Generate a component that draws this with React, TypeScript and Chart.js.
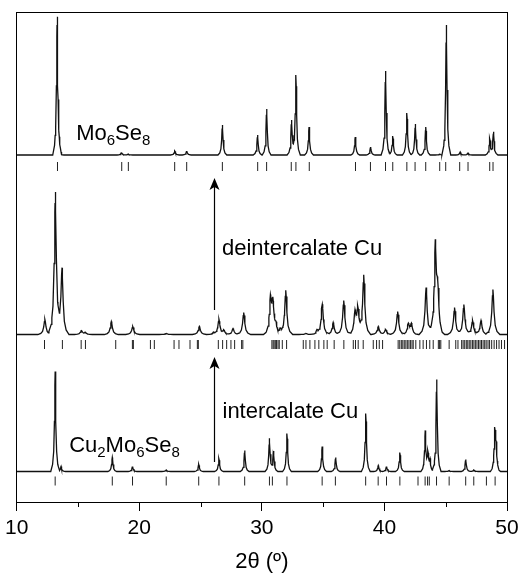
import { useEffect, useRef } from "react";
import { Chart, registerables } from "chart.js";

Chart.register(...registerables);

// ---- Data (2θ in degrees, intensities in plot units) ----
const topPeakPos = [13.3, 13.5, 18.55, 19.1, 22.9, 23.87, 26.78, 29.65, 30.39, 32.42, 32.78, 33.85, 37.62, 38.87, 40.09, 40.68, 41.83, 42.52, 43.37, 44.51, 45.05, 46.18, 46.82, 48.59, 48.9];
const topPeakInt = [138, 2, 2.5, 1, 4, 4, 30, 20, 46, 35, 80, 28, 18, 8, 84, 19, 42, 31, 28, 1, 130, 3, 2, 16, 23];

const midPeakPos = [12.3, 13.15, 13.7, 15.28, 15.6, 17.72, 19.47, 22.2, 24.9, 26.05, 26.5, 26.9, 27.65, 28.52, 30.7, 30.9, 31.15, 31.5, 31.95, 33.6, 34.5, 34.93, 35.82, 36.68, 37.6, 37.83, 38.31, 39.5, 40.1, 41.08, 41.95, 42.2, 43.4, 44.15, 44.35, 45.72, 46.48, 47.19, 47.88, 48.85];
const midPeakInt = [15, 142, 66, 4, 2, 13, 8, 1, 8, 2, 15, 4, 6, 22, 34, 30, 8, 5, 44, 1, 4, 30, 12, 34, 21, 24, 59, 8, 5, 23, 10, 10, 47, 88, 38, 27, 30, 14, 14, 45];

const botPeakPos = [13.14, 13.62, 17.8, 19.45, 22.2, 24.85, 26.5, 28.6, 30.62, 30.95, 32.05, 34.92, 36.02, 38.48, 39.5, 40.17, 41.26, 43.33, 43.55, 43.72, 44.26, 45.28, 46.63, 47.3, 49.0, 49.12];
const botPeakInt = [100, 5, 14, 5, 1.5, 7, 13, 21, 33, 20, 38, 25, 14, 58, 6, 5, 19, 40, 17, 11, 92, 1, 12, 1.5, 40, 22];

const topTicks = [13.33, 18.57, 19.11, 22.89, 23.87, 26.78, 29.66, 30.39, 32.4, 32.78, 33.87, 37.64, 38.86, 40.09, 40.68, 41.83, 42.5, 43.37, 44.51, 45.0, 46.14, 46.82, 48.59, 48.86];
const midTicks = [12.27, 13.73, 15.26, 15.61, 18.08, 19.44, 19.52, 20.91, 21.23, 22.84, 23.24, 24.14, 24.74, 24.82, 26.45, 26.8, 27.13, 27.48, 27.78, 28.35, 28.45, 30.82, 30.92, 31.0, 31.1, 31.2, 31.32, 31.42, 31.67, 32.02, 33.38, 33.6, 33.92, 34.33, 34.65, 35.06, 35.33, 35.9, 36.69, 37.46, 37.64, 37.86, 38.27, 39.09, 39.36, 39.58, 39.85, 41.12, 41.25, 41.38, 41.5, 41.62, 41.75, 41.87, 42.0, 42.12, 42.25, 42.35, 42.56, 42.89, 43.16, 43.43, 43.7, 43.98, 44.4, 44.5, 44.6, 45.28, 45.82, 46.0, 46.3, 46.42, 46.55, 46.68, 46.8, 46.92, 47.05, 47.18, 47.3, 47.42, 47.55, 47.68, 47.8, 47.92, 48.05, 48.18, 48.3, 48.45, 48.58, 48.75, 48.95, 49.15, 49.35, 49.55, 49.8];
const botTicks = [13.14, 17.8, 19.45, 22.2, 24.85, 26.5, 28.6, 30.62, 30.86, 32.05, 34.92, 36.0, 38.47, 39.49, 40.17, 41.26, 42.74, 43.32, 43.52, 43.66, 44.25, 45.28, 46.63, 47.29, 48.32, 49.03];

const xTickLabels = [10, 20, 30, 40, 50];
const xMinorTicks = [15, 25, 35, 45];

// vertical stacking offsets of the three patterns and their reflection-marker rows
const topOffset = 347;
const midOffset = 167.5;
const botOffset = 30.5;
const topTickRow = 335.5;
const midTickRow = 157.5;
const botTickRow = 21;

// text annotations: [2θ, y, runs] — runs: [text, isSubscript]
const labelTexts: [number, number, [string, boolean][]][] = [
  [14.85, 362, [["Mo", false], ["6", true], ["Se", false], ["8", true]]],
  [26.75, 247, [["deintercalate Cu", false]]],
  [26.79, 84, [["intercalate Cu", false]]],
  [14.28, 50, [["Cu", false], ["2", true], ["Mo", false], ["6", true], ["Se", false], ["8", true]]],
];
// arrows: [2θ, yFrom, yTo]
const arrows: [number, number, number][] = [
  [26.1, 192, 324],
  [26.1, 40, 145],
];

const FONT = "'Liberation Sans', Arial, Helvetica, sans-serif";

// peak profile template (distance in half-widths -> relative height)
const profile: [number, number][] = [[0, 1], [0.4, 0.86], [1, 0.5], [2, 0.2], [3.5, 0.07], [6, 0]];

function shape(d: number): number {
  for (let k = 0; k < profile.length - 1; k++) {
    const [u0, v0] = profile[k];
    const [u1, v1] = profile[k + 1];
    if (d <= u1) return v0 + ((d - u0) / (u1 - u0)) * (v1 - v0);
  }
  return 0;
}

function buildCurve(pos: number[], int: number[], gamma: number, offset: number) {
  const xs = new Set<number>([10, 50]);
  pos.forEach((p) =>
    profile.forEach(([u]) => {
      xs.add(+(p - u * gamma).toFixed(4));
      xs.add(+(p + u * gamma).toFixed(4));
    })
  );
  const sorted = [...xs].filter((x) => x >= 10 && x <= 50).sort((a, b) => a - b);
  return sorted.map((x) => {
    let y = 0;
    pos.forEach((p, i) => {
      y += int[i] * shape(Math.abs(x - p) / gamma);
    });
    return { x, y: offset + y };
  });
}

const tickData = (arr: number[], row: number) => arr.map((x) => ({ x, y: row }));

const annotPlugin = {
  id: "annot",
  afterDatasetsDraw(chart: any) {
    const { ctx, scales } = chart;
    const xs = scales.x;
    const ys = scales.y;
    ctx.save();
    ctx.fillStyle = "#000";
    ctx.strokeStyle = "#000";
    ctx.textBaseline = "alphabetic";
    ctx.textAlign = "left";
    labelTexts.forEach(([lx, ly, runs]) => {
      let px = xs.getPixelForValue(lx);
      const py = ys.getPixelForValue(ly);
      runs.forEach(([t, sub]) => {
        ctx.font = sub ? `15px ${FONT}` : `22px ${FONT}`;
        ctx.fillText(t, px, py + (sub ? 5 : 0));
        px += ctx.measureText(t).width;
      });
    });
    arrows.forEach(([ax, y0, y1]) => {
      const px = Math.round(xs.getPixelForValue(ax)) + 0.5;
      const pb = ys.getPixelForValue(y0);
      const pt = ys.getPixelForValue(y1);
      ctx.lineWidth = 1.2;
      ctx.beginPath();
      ctx.moveTo(px, pb);
      ctx.lineTo(px, pt + 8);
      ctx.stroke();
      ctx.beginPath();
      ctx.moveTo(px, pt);
      ctx.lineTo(px - 5, pt + 12);
      ctx.lineTo(px, pt + 9);
      ctx.lineTo(px + 5, pt + 12);
      ctx.closePath();
      ctx.fill();
    });
    // minor ticks on x axis
    const bottom = chart.chartArea.bottom;
    ctx.lineWidth = 1;
    xMinorTicks.forEach((v) => {
      const px = Math.round(xs.getPixelForValue(v)) + 0.5;
      ctx.beginPath();
      ctx.moveTo(px, bottom);
      ctx.lineTo(px, bottom + 5);
      ctx.stroke();
    });
    ctx.restore();
  },
};

export default function App() {
  const ref = useRef<HTMLCanvasElement | null>(null);
  useEffect(() => {
    if (!ref.current) return;
    const curveStyle = { borderColor: "#111", borderWidth: 1.3, pointRadius: 0, fill: false, tension: 0 };
    const tickStyle = {
      type: "scatter" as const,
      showLine: false,
      pointStyle: "line" as const,
      rotation: 90,
      pointRadius: 4.5,
      borderColor: "#222",
      pointBorderWidth: 1,
      borderWidth: 1,
    };
    const hidden = {
      type: "linear" as const,
      ticks: { display: false },
      grid: { display: true, drawOnChartArea: false, drawTicks: false },
      border: { display: true, color: "#000", width: 1 },
    };
    const chart = new Chart(ref.current, {
      type: "line",
      data: {
        datasets: [
          { label: "Mo6Se8", data: buildCurve(topPeakPos, topPeakInt, 0.06, topOffset), ...curveStyle },
          { label: "deintercalated", data: buildCurve(midPeakPos, midPeakInt, 0.095, midOffset), ...curveStyle },
          { label: "Cu2Mo6Se8", data: buildCurve(botPeakPos, botPeakInt, 0.06, botOffset), ...curveStyle },
          { label: "top ticks", data: tickData(topTicks, topTickRow), ...tickStyle },
          { label: "mid ticks", data: tickData(midTicks, midTickRow), ...tickStyle },
          { label: "bot ticks", data: tickData(botTicks, botTickRow), ...tickStyle },
        ] as any,
      },
      options: {
        animation: false,
        responsive: true,
        maintainAspectRatio: false,
        devicePixelRatio: 1,
        events: [],
        layout: { padding: 0 },
        plugins: { legend: { display: false }, tooltip: { enabled: false } },
        scales: {
          x: {
            type: "linear",
            position: "bottom",
            min: 10,
            max: 50,
            afterBuildTicks: (s: any) => {
              s.ticks = xTickLabels.map((v) => ({ value: v }));
            },
            ticks: { color: "#000", font: { family: FONT, size: 21 }, padding: 5, maxRotation: 0, autoSkip: false },
            grid: { display: true, drawOnChartArea: false, drawTicks: true, tickLength: 9, tickColor: "#000", tickWidth: 1 },
            border: { display: true, color: "#000", width: 1 },
            title: { display: true, text: "2θ (º)", color: "#000", font: { family: FONT, size: 22 }, padding: { top: 0, bottom: -2 } },
            afterFit: (s: any) => {
              s.height = 71;
            },
          },
          x2: {
            ...hidden,
            position: "top",
            min: 10,
            max: 50,
            afterFit: (s: any) => {
              s.height = 12;
            },
          },
          y: {
            ...hidden,
            position: "left",
            min: 0,
            max: 490,
            afterFit: (s: any) => {
              s.width = 16;
            },
          },
          y2: {
            ...hidden,
            position: "right",
            min: 0,
            max: 490,
            afterFit: (s: any) => {
              s.width = 20;
            },
          },
        },
      } as any,
      plugins: [annotPlugin],
    });
    return () => chart.destroy();
  }, []);
  return (
    <div style={{ position: "absolute", left: 0, top: 0, width: 527, height: 573, background: "#fff" }}>
      <canvas ref={ref} width={527} height={573} />
    </div>
  );
}
